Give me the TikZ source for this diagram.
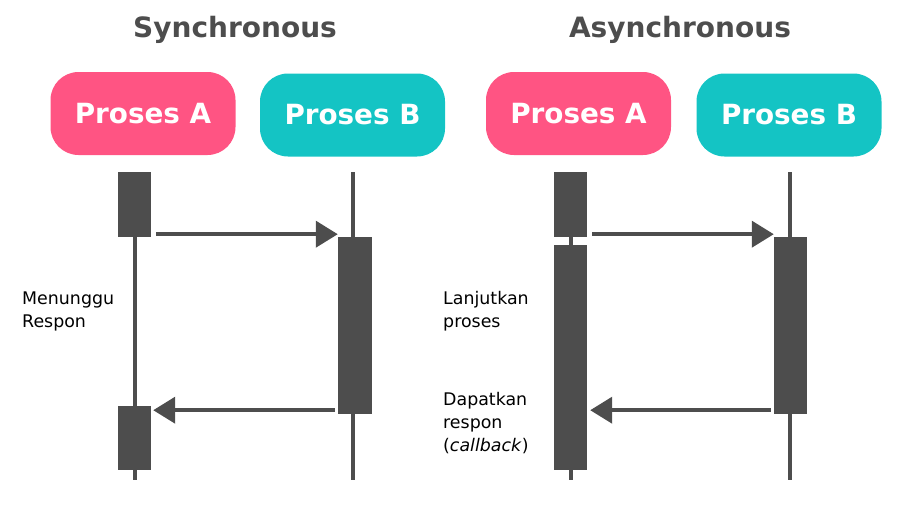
\documentclass[tikz,border=0pt]{standalone}
\usepackage{fontspec}
\setmainfont{DejaVu Sans}
\usepackage{tikz}
\usetikzlibrary{arrows.meta, positioning, calc}

\definecolor{darkline}{RGB}{77,77,77}
\definecolor{pinkbox}{RGB}{255,84,131}
\definecolor{tealbox}{RGB}{20,196,196}

\begin{document}
\begin{tikzpicture}[x=1pt, y=-1pt,
            % Section titles
            title/.style={font=\fontsize{28}{32}\selectfont\bfseries, text=darkline},
            % Process headers
            proc/.style={rounded corners=28pt, minimum width=185pt, minimum height=83pt,
                    inner sep=0pt, text=white, font=\fontsize{27.8}{30}\selectfont\bfseries},
            % Activation boxes
            act/.style={fill=darkline, minimum width=33pt, inner sep=0pt},
            % Lifelines
            life/.style={line width=4pt, color=darkline},
            % Messages
            msg/.style={-{Triangle[length=22pt, width=26pt]}, line width=4pt, color=darkline},
            % Side notes
            note/.style={font=\fontsize{17.4}{23}\selectfont, align=left, anchor=north west, inner sep=0pt}
        ]
        \useasboundingbox (0,0) rectangle (898,507);

        % Synchronous
        \node[title] (tsync) at (235,30) {Synchronous};
        \node[proc, fill=pinkbox] (pa1) at (143,113.5) {Proses A};
        \node[proc, fill=tealbox] (pb1) at (352.5,115) {Proses B};

        \coordinate (la1top) at (135,172);
        \coordinate (la1bot) at (135,480);
        \coordinate (lb1top) at (353,172);
        \coordinate (lb1bot) at (353,480);
        \draw[life] (la1top) -- (la1bot);
        \draw[life] (lb1top) -- (lb1bot);

        \node[act, minimum height=65pt] (a1) at (134.5,204.5) {};
        \node[act, minimum height=64pt] (a2) at (134.5,438) {};
        \node[act, minimum width=34pt, minimum height=177pt] (b1) at (355,325.5) {};

        \draw[msg] ([xshift=5pt, yshift=3pt]a1.south east) -- ([yshift=3pt]a1.south east -| b1.west);
        \draw[msg] ([xshift=-3pt, yshift=4pt]b1.south west) -- ([xshift=2pt, yshift=4pt]b1.south west -| a2.east);

        \node[note] (wait) at (22,292) {Menunggu\\Respon};

        % Asynchronous
        \node[title] (tasync) at (680,30) {Asynchronous};
        \node[proc, fill=pinkbox] (pa2) at (578.5,113.5) {Proses A};
        \node[proc, fill=tealbox] (pb2) at (789,115) {Proses B};

        \coordinate (la2top) at (571,172);
        \coordinate (la2bot) at (571,480);
        \coordinate (lb2top) at (790,172);
        \coordinate (lb2bot) at (790,480);
        \draw[life] (la2top) -- (la2bot);
        \draw[life] (lb2top) -- (lb2bot);

        \node[act, minimum height=65pt] (c1) at (570.5,204.5) {};
        \node[act, minimum height=225pt] (c2) at (570.5,357.5) {};
        \node[act, minimum width=33pt, minimum height=177pt] (d1) at (790.5,325.5) {};

        \draw[msg] ([xshift=5pt, yshift=3pt]c1.south east) -- ([yshift=3pt]c1.south east -| d1.west);
        \draw[msg] ([xshift=-3pt, yshift=4pt]d1.south west) -- ([xshift=3pt, yshift=4pt]d1.south west -| c2.east);

        \node[note] (cont) at (443,291) {Lanjutkan\\proses};
        \node[note] (back) at (443,392) {Dapatkan\\respon\\(\textit{callback})};

    \end{tikzpicture}
\end{document}
